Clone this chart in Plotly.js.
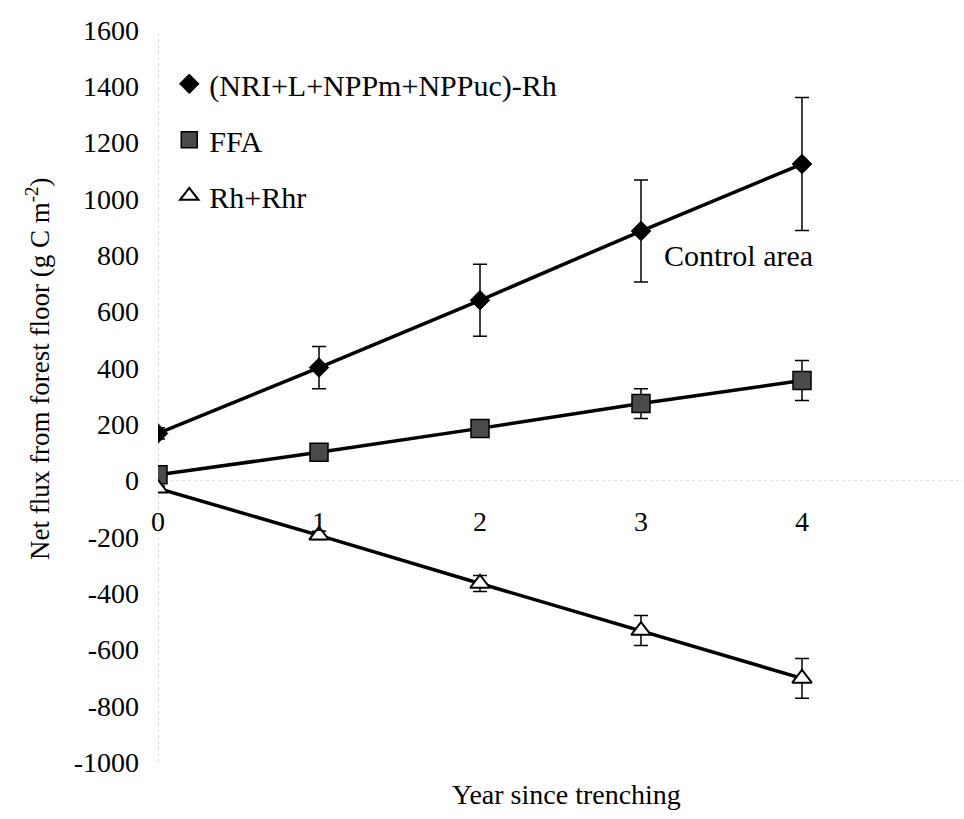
<!DOCTYPE html>
<html>
<head>
<meta charset="utf-8">
<script src="https://cdn.plot.ly/plotly-3.0.1.min.js"></script>
<style>html,body{margin:0;padding:0;background:#fff;}#chart{width:964px;height:819px;}</style>
</head>
<body>
<div id="chart"></div>
<script>
// Data
const years = [0, 1, 2, 3, 4];
const seriesNames = ["(NRI+L+NPPm+NPPuc)-Rh", "FFA", "Rh+Rhr"];
const balanceValues = [167, 401, 640, 886, 1124];
const balanceErrors = [20, 75, 128, 181, 236];
const ffaValues = [20, 100, 185, 273, 355];
const ffaErrors = [10, 14, 20, 53, 71];
const rhValues = [-28, -195, -366, -533, -703];
const rhErrors = [8, 15, 28, 53, 71];
const xTickVals = [0, 1, 2, 3, 4, 5];
const yTickVals = [-1000, -800, -600, -400, -200, 0, 200, 400, 600, 800, 1000, 1200, 1400, 1600];

const FONT = "Liberation Serif";

function lineTrace(y) {
  return {x: years, y: y, mode: 'lines', line: {color: '#000', width: 3.5},
          showlegend: false, hoverinfo: 'skip'};
}
function markerTrace(name, y, err, marker, group) {
  return {x: years, y: y, name: name, mode: 'markers', legendgroup: group,
          marker: marker,
          error_y: {type: 'data', array: err, visible: true, color: '#000', thickness: 1.5, width: 7}};
}

const traces = [
  lineTrace(balanceValues), lineTrace(ffaValues), lineTrace(rhValues),
  markerTrace(seriesNames[0], balanceValues, balanceErrors,
    {symbol: 'diamond', size: 15, color: '#000', line: {color: '#000', width: 1}}, 'a'),
  markerTrace(seriesNames[1], ffaValues, ffaErrors,
    {symbol: 'square', size: 18, color: '#4a4a4a', line: {color: '#000', width: 1.5}}, 'b'),
  markerTrace(seriesNames[2], rhValues, rhErrors,
    {symbol: 'triangle-up', size: 17, color: '#fff', line: {color: '#000', width: 2}}, 'c')
];

const layout = {
  width: 964, height: 819,
  margin: {l: 158, r: 1, t: 30, b: 57},
  paper_bgcolor: '#fff', plot_bgcolor: '#fff',
  font: {family: FONT, color: '#000', size: 28},
  showlegend: true,
  legend: {x: 0.014, y: 0.962, xanchor: 'left', yanchor: 'top', bgcolor: 'rgba(0,0,0,0)',
           font: {family: FONT, size: 30, color: '#000'}, tracegroupgap: 14, traceorder: 'grouped'},
  xaxis: {range: [0, 5], tickvals: xTickVals, ticktext: xTickVals.map(String),
          showgrid: false, zeroline: false, showline: false, ticks: '',
          anchor: 'free', position: 1000 / 2600, ticklabelstandoff: 22,
          tickfont: {family: FONT, size: 28, color: '#000'}, fixedrange: true},
  yaxis: {range: [-1000, 1600], tickvals: yTickVals, ticktext: yTickVals.map(String),
          showgrid: false, zeroline: false, showline: false, ticks: '',
          ticklabelstandoff: 18, automargin: false,
          tickfont: {family: FONT, size: 28, color: '#000'}},
  shapes: [
    {type: 'line', xref: 'x', yref: 'y', x0: 0, x1: 0, y0: -1000, y1: 1600,
     line: {color: '#bbb', width: 1, dash: 'dot'}, layer: 'below'},
    {type: 'line', xref: 'x', yref: 'y', x0: 0, x1: 5, y0: 0, y1: 0,
     line: {color: '#ddd', width: 1, dash: 'dot'}, layer: 'below'}
  ],
  annotations: [
    {text: 'Control area', xref: 'x', yref: 'y', x: 3.13, y: 800, xanchor: 'left', yanchor: 'middle',
     showarrow: false, font: {family: FONT, size: 30, color: '#000'}},
    {text: 'Year since trenching', xref: 'paper', yref: 'paper', x: 0.508, y: -0.045,
     xanchor: 'center', yanchor: 'middle', showarrow: false,
     font: {family: FONT, size: 28, color: '#000'}},
    {text: 'Net flux from forest floor (g C m<sup>-2</sup>)', xref: 'paper', yref: 'paper',
     x: -0.149, y: 0.537, xanchor: 'center', yanchor: 'middle', textangle: -90, showarrow: false,
     font: {family: FONT, size: 27, color: '#000'}}
  ]
};

Plotly.newPlot('chart', traces, layout, {staticPlot: true, displayModeBar: false});
</script>
</body>
</html>
